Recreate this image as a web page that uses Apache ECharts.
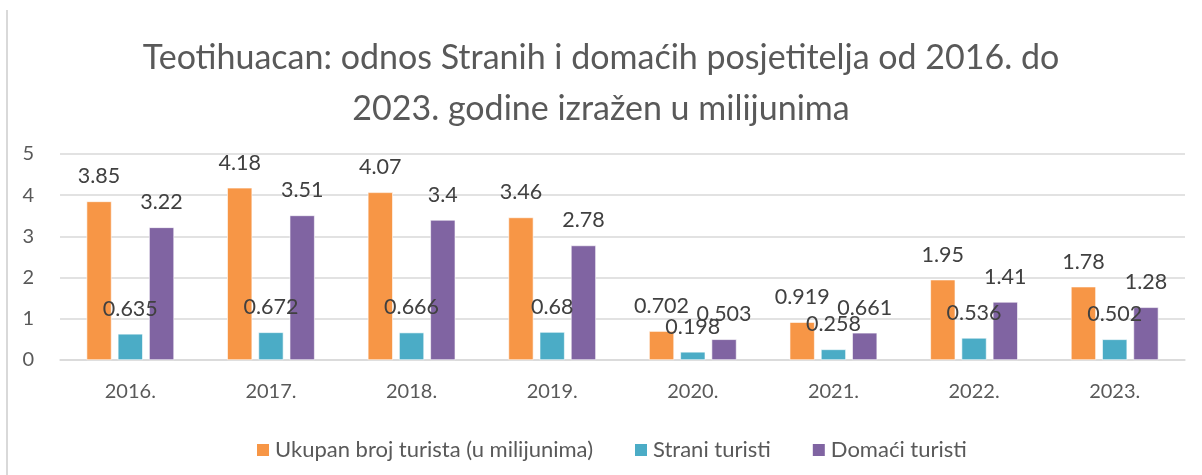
<!DOCTYPE html>
<html>
<head>
<meta charset="utf-8">
<script src="https://cdn.jsdelivr.net/npm/echarts@6/dist/echarts.min.js"></script>
<style>
html,body{margin:0;padding:0;background:#fff;}
#chart{width:1202px;height:475px;}
</style>
</head>
<body>
<div id="chart"></div>
<script>
const categories = ['2016.', '2017.', '2018.', '2019.', '2020.', '2021.', '2022.', '2023.'];
const ukupan = [3.85, 4.18, 4.07, 3.46, 0.702, 0.919, 1.95, 1.78];
const strani = [0.635, 0.672, 0.666, 0.68, 0.198, 0.258, 0.536, 0.502];
const domaci = [3.22, 3.51, 3.4, 2.78, 0.503, 0.661, 1.41, 1.28];
const seriesNames = ['Ukupan broj turista (u milijunima)', 'Strani turisti', 'Domaći turisti'];
const yTicks = [0, 1, 2, 3, 4, 5];

const FONT = 'Lato, "Open Sans", sans-serif';
const chart = echarts.init(document.getElementById('chart'), null, {renderer: 'canvas'});

function barSeries(name, data, color) {
  return {
    name: name,
    type: 'bar',
    data: data,
    barWidth: 25,
    barGap: '25%',
    itemStyle: {color: color, borderColor: '#ffffff', borderWidth: 0.6},
    label: {
      show: true,
      position: 'top',
      distance: 14,
      color: '#404040',
      fontFamily: FONT,
      fontSize: 21.5
    }
  };
}

chart.setOption({
  animation: false,
  backgroundColor: '#ffffff',
  textStyle: {fontFamily: FONT},
  title: {
    text: 'Teotihuacan: odnos Stranih i domaćih posjetitelja od 2016. do\n2023. godine izražen u milijunima',
    left: 'center',
    top: 28,
    textStyle: {
      fontFamily: FONT,
      fontSize: 34,
      fontWeight: 'normal',
      color: '#595959',
      lineHeight: 51
    }
  },
  legend: {
    top: 434,
    left: 250,
    itemWidth: 14,
    itemHeight: 14,
    itemGap: 40,
    icon: 'rect',
    textStyle: {fontFamily: FONT, fontSize: 22, color: '#595959'},
    data: seriesNames
  },
  grid: {left: 60, right: 17, top: 154, bottom: 115, containLabel: false},
  xAxis: {
    type: 'category',
    data: categories,
    axisLine: {show: true, lineStyle: {color: '#d9d9d9', width: 1.5}},
    axisTick: {show: false},
    axisLabel: {color: '#595959', fontFamily: FONT, fontSize: 20, margin: 22}
  },
  yAxis: {
    type: 'value',
    min: yTicks[0],
    max: yTicks[yTicks.length - 1],
    interval: 1,
    axisLine: {show: false},
    axisTick: {show: false},
    splitLine: {lineStyle: {color: '#d9d9d9', width: 1.5}},
    axisLabel: {color: '#595959', fontFamily: FONT, fontSize: 20, margin: 26}
  },
  graphic: [{
    type: 'line',
    shape: {x1: 7, y1: 10, x2: 7, y2: 475},
    style: {stroke: '#d9d9d9', lineWidth: 2}
  }],
  series: [
    barSeries(seriesNames[0], ukupan, '#F79646'),
    barSeries(seriesNames[1], strani, '#4BACC6'),
    barSeries(seriesNames[2], domaci, '#8064A2')
  ]
});
</script>
</body>
</html>
